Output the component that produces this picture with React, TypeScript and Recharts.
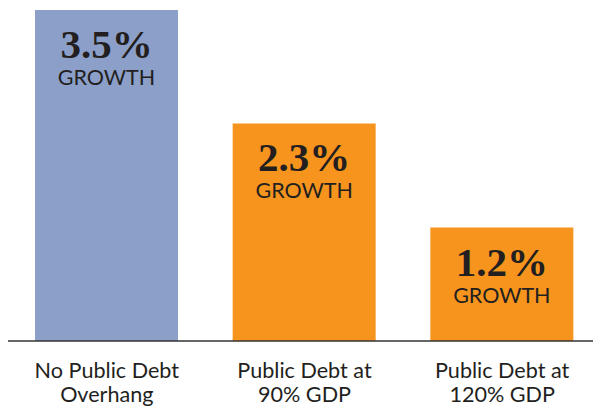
import React from "react";
import { BarChart, Bar, XAxis, YAxis, Cell, LabelList } from "recharts";

const categories = ["No Public Debt|Overhang", "Public Debt at|90% GDP", "Public Debt at|120% GDP"];
const growthValues = [3.5, 2.3, 1.2];
const barColors = ["#8B9FC9", "#F7941D", "#F7941D"];
const valueLabels = ["3.5%", "2.3%", "1.2%"];

const data = categories.map((c, i) => ({ name: c, value: growthValues[i], label: valueLabels[i] }));

const TEXT = "#231F20";

const Tick = (props: any) => {
  const { x, y, payload } = props;
  const lines = String(payload.value).split("|");
  return (
    <g>
      {lines.map((l, i) => (
        <text
          key={i}
          x={x}
          y={y + 37 + i * 24}
          textAnchor="middle"
          fill={TEXT}
          fontFamily="Lato, 'Open Sans', sans-serif"
          fontSize={21.6}
        >
          {l}
        </text>
      ))}
    </g>
  );
};

const BarLabel = (props: any) => {
  const { x, y, width, index } = props;
  const cx = x + width / 2;
  return (
    <g>
      <text
        x={cx}
        y={y + 48}
        textAnchor="middle"
        fill={TEXT}
        fontFamily="'Liberation Serif', 'DejaVu Serif', serif"
        fontWeight="bold"
        fontSize={41}
      >
        {valueLabels[index]}
      </text>
      <text
        x={cx}
        y={y + 75}
        textAnchor="middle"
        fill={TEXT}
        fontFamily="Lato, 'Open Sans', sans-serif"
        fontSize={21.5}
      >
        GROWTH
      </text>
    </g>
  );
};

export default function App() {
  return (
    <div style={{ position: "fixed", left: 0, top: 0, width: 593, height: 406, overflow: "hidden", background: "#fff" }}>
      <BarChart width={601} height={406} data={data} margin={{ top: 10, right: 0, bottom: 0, left: 8 }}>
        <YAxis hide domain={[0, 3.5]} />
        <XAxis
          dataKey="name"
          height={65}
          axisLine={{ stroke: "#333333", strokeWidth: 1.5 }}
          tickLine={false}
          tickSize={0}
          tickMargin={0}
          tick={<Tick />}
          interval={0}
        />
        <Bar dataKey="value" barSize={143} isAnimationActive={false}>
          {data.map((d, i) => (
            <Cell key={i} fill={barColors[i]} />
          ))}
          <LabelList dataKey="label" content={<BarLabel />} />
        </Bar>
      </BarChart>
    </div>
  );
}
